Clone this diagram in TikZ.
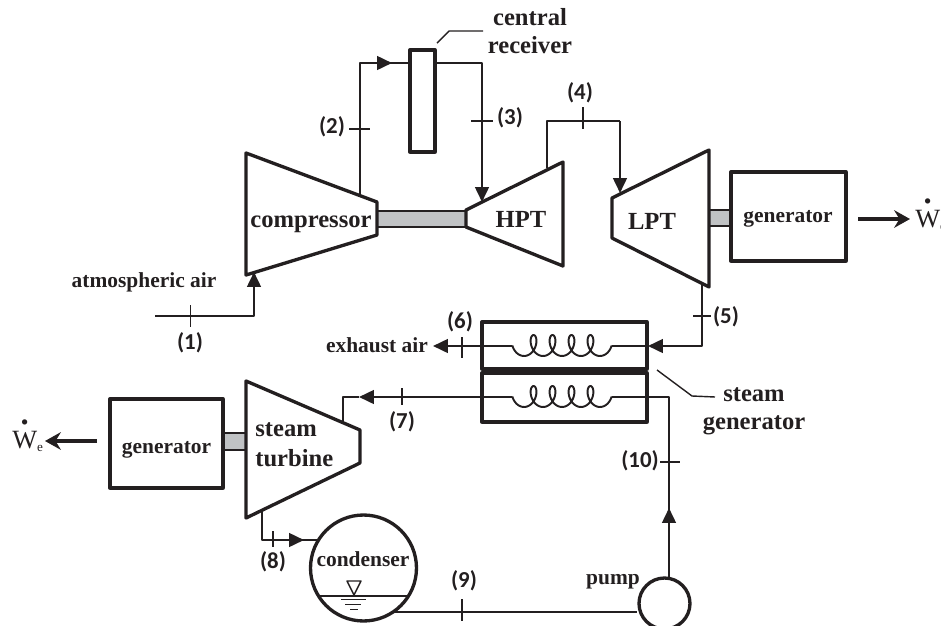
\documentclass[tikz,border=0pt]{standalone}
\usepackage{amsmath}
\usepackage{fontspec}
\setmainfont{Liberation Serif}
\newfontfamily\numfont{Carlito}
\usetikzlibrary{arrows.meta}
\definecolor{shaftgray}{HTML}{C0C2C4}
\definecolor{inkblack}{HTML}{231F20}
\newcommand{\workrate}{$\overset{\scriptscriptstyle\bullet}{\mathrm{W}}_{\scriptscriptstyle\mathrm{e}}$}
\tikzset{
    machine/.style={draw=inkblack,line width=1.9pt,line join=round},
    box/.style={machine,inner sep=0pt},
    pipe/.style={draw=inkblack,line width=1.3pt,line join=round},
    flow/.style={pipe,-{Triangle[length=8.5pt,width=7.8pt]}},
    power/.style={draw=inkblack,line width=2.1pt,-{Stealth[length=9pt,width=10pt,inset=3pt]}},
    tick/.style={draw=inkblack,line width=1pt},
    shaft/.style={draw=inkblack,line width=0.7pt,fill=shaftgray},
    lead/.style={draw=inkblack,line width=0.8pt},
    bigtext/.style={text=inkblack,font=\bfseries\fontsize{14}{16}\selectfont,inner sep=0pt,align=center},
    smalltext/.style={text=inkblack,font=\bfseries\fontsize{12.2}{14}\selectfont,inner sep=0pt,anchor=base},
    statetext/.style={text=inkblack,font=\numfont\bfseries\fontsize{13}{13}\selectfont,inner sep=0pt},
    worktext/.style={text=inkblack,font=\fontsize{15}{15}\selectfont,inner sep=0pt,anchor=base west}
}
\begin{document}
\begin{tikzpicture}[x=0.02cm,y=-0.02cm]
\useasboundingbox (0,0) rectangle (941,626);
% shafts
\draw[shaft] (377,211) rectangle (466,227);
\draw[shaft] (709,210) rectangle (732,226);
\draw[shaft] (223,433) rectangle (246,450);
% turbines
\draw[machine] (246,153) -- (377,202) -- (377,235) -- (246,275) -- cycle;
\draw[machine] (466,210) -- (563,162) -- (563,266) -- (466,227) -- cycle;
\draw[machine] (612,198) -- (709,150) -- (709,287) -- (612,238) -- cycle;
\draw[machine] (246,381) -- (360,430) -- (360,463) -- (246,518) -- cycle;
% boxes
\node[box,minimum height=2.04cm,minimum width=0.5cm] (receiver) at (422.5,101) {};
\node[box,minimum width=2.3cm,minimum height=1.78cm] (genright) at (788.5,216.5) {};
\node[box,minimum width=2.26cm,minimum height=1.78cm] (genleft) at (166.5,443.5) {};
\node[box,minimum width=3.3cm,minimum height=0.94cm] (hotbox) at (564.5,345.5) {};
\node[box,minimum width=3.3cm,minimum height=0.98cm] (coldbox) at (564.5,397.5) {};
\node[box,circle,minimum size=2.12cm] (condenser) at (363.5,568) {};
\node[box,circle,minimum size=1.02cm] (pump) at (664.5,603.5) {};
% connection points
\coordinate (compin) at (254,272);
\coordinate (compout) at (360,195);
\coordinate (hptin) at (482,202);
\coordinate (hptout) at (547,168);
\coordinate (lptin) at (620,193);
\coordinate (lptout) at (702,283);
\coordinate (stin) at (343,422);
\coordinate (stout) at (262,512);
\coordinate (airin) at (155,316);
\coordinate (recin) at (receiver.west |- 0,63);
\coordinate (recout) at (receiver.east |- 0,63);
\coordinate (hoteast) at (hotbox.east |- 0,346);
\coordinate (condout) at (395,612);
\coordinate (pumpin) at (pump.west |- 0,612);
\coordinate (pumpout) at (669,578.5);
% air loop
\draw[pipe] (airin) -| (254,290);
\draw[flow] (254,316) -- (compin);
\draw[pipe] (compout) |- (recin);
\draw[flow] (359.5,63) -- (392,63);
\draw[pipe] (recout) -| (482,120);
\draw[flow] (482,120) -- (hptin);
\draw[pipe] (hptout) |- (620,121);
\draw[flow] (620,121) -- (lptin);
\draw[pipe] (lptout) |- (665,346);
\draw[flow] (702,346) -- (648,346);
\draw[pipe] (hoteast) -- (612,346);
\draw[pipe] (512,346) -- (470,346);
\draw[flow] (470,346) -- (433,346);
% water loop
\draw[pipe] (pumpout) -- (669,397) -- (612,397);
\draw[flow] (669,560) -- (669,508);
\draw[pipe] (512,397) -- (380,397);
\draw[flow] (380,397) -- (359,397);
\draw[pipe] (359,397) -| (stin);
\draw[pipe] (stout) |- (condenser.west |- 0,540);
\draw[flow] (262,540) -- (304,540);
\draw[pipe] (304,540) -- (318,540);
\draw[pipe] (condout) -- (pumpin);
% coils
\foreach \y in {346,397}{
\draw[pipe,line width=1.1pt,domain=-14.14:14.14,samples=160,variable=\t]
  plot ({562+3.02*\t+7*sin(\t r)},{\y-0.5+10.5*cos(\t r)});}
% state ticks
\foreach \x/\ya/\yb in {190.5/305/327,583/107/129,462/337/358,402/388/405,273/531/547,462/599/621}{
\draw[tick] (\x,\ya) -- (\x,\yb);}
\foreach \xa/\xb/\y in {349/370/129,471/493/121,693/711/316,660/680/462}{
\draw[tick] (\xa,\y) -- (\xb,\y);}
% condenser water
\draw[pipe] (320,596) -- (407,596);
\draw[pipe,line width=0.8pt] (347,581) -- (361,581) -- (354,595) -- cycle;
\draw[pipe,line width=0.9pt] (341,599.5) -- (366,599.5);
\draw[pipe,line width=0.9pt] (345,604.5) -- (361,604.5);
\draw[pipe,line width=0.9pt] (350,609.5) -- (358,609.5);
% leaders
\coordinate (recleader) at (437,43);
\coordinate (sgleader) at (657,370);
\draw[lead] (recleader) -- (449,31) -- (483,31);
\draw[lead] (sgleader) -- (692,396) -- (715,397);
% work arrows
\coordinate (wright) at (910,219);
\coordinate (wleft) at (45,441);
\draw[power] (858,219) -- (wright);
\draw[power] (97,441) -- (wleft);
\node[worktext] (wrightlabel) at (915,227) {\workrate};
\node[worktext] (wleftlabel) at (12,448) {\workrate};
% names
\node[bigtext,anchor=base] (compressorname) at (311,227) {compressor};
\node[bigtext,anchor=base] (hptname) at (521,227) {HPT};
\node[bigtext,anchor=base] (lptname) at (652,229) {LPT};
\node[bigtext] (receivername) at (530,31.5) {central\\receiver};
\node[bigtext] (sgname) at (754,411.5) {steam\\generator};
\node[bigtext,align=left,anchor=west] (stname) at (255,445) {steam\\[1pt]turbine};
\node[smalltext] (genrightname) at (788,222) {generator};
\node[smalltext] (genleftname) at (166.5,453) {generator};
\node[smalltext] (condensername) at (363,566) {condenser};
\node[smalltext] (pumpname) at (613,584) {pump};
\node[smalltext] (airname) at (144,287) {atmospheric air};
\node[smalltext] (exhaustname) at (377,352) {exhaust air};
% state numbers
\node[statetext] (s1) at (190,343) {(1)};
\node[statetext] (s2) at (332,127) {(2)};
\node[statetext] (s3) at (510,118) {(3)};
\node[statetext] (s4) at (580,93) {(4)};
\node[statetext] (s5) at (726,317) {(5)};
\node[statetext] (s6) at (460,322) {(6)};
\node[statetext] (s7) at (402,422) {(7)};
\node[statetext] (s8) at (273,562) {(8)};
\node[statetext] (s9) at (464,581) {(9)};
\node[statetext] (s10) at (640,461) {(10)};
\end{tikzpicture}
\end{document}
